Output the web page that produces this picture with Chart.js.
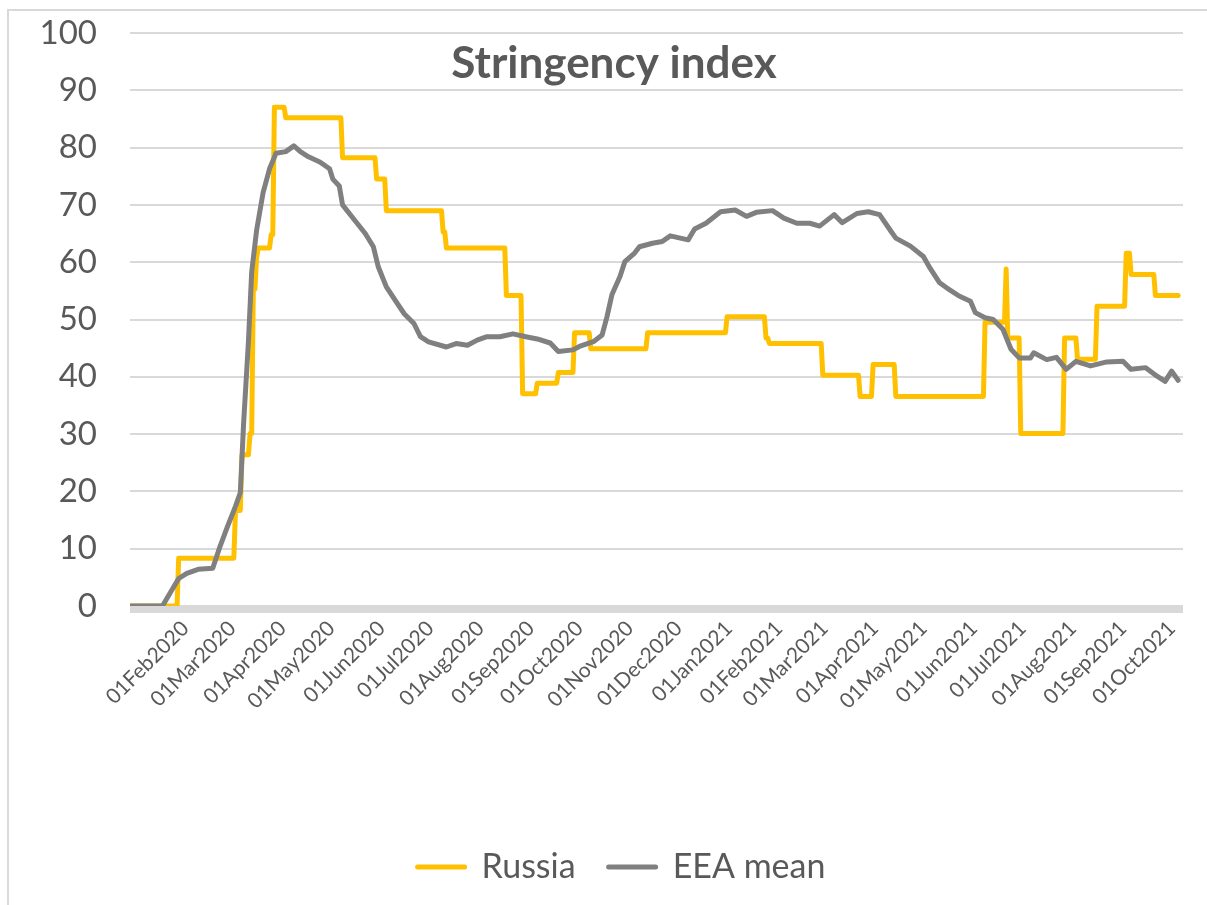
<!DOCTYPE html>
<html><head><meta charset="utf-8">
<script src="https://cdn.jsdelivr.net/npm/chart.js@4/dist/chart.umd.min.js"></script>
<style>html,body{margin:0;padding:0;background:#fff;}canvas{display:block;}</style>
</head><body>
<canvas id="c" width="1207" height="905"></canvas>
<script>
const chartTitle = 'Stringency index';
const seriesNames = ['Russia', 'EEA mean'];
// Day numbers count from 01 Jan 2020 (day 0)
const tickLabels = ['01Feb2020','01Mar2020','01Apr2020','01May2020','01Jun2020','01Jul2020','01Aug2020','01Sep2020','01Oct2020','01Nov2020','01Dec2020','01Jan2021','01Feb2021','01Mar2021','01Apr2021','01May2021','01Jun2021','01Jul2021','01Aug2021','01Sep2021','01Oct2021'];
const yTicks = [0,10,20,30,40,50,60,70,80,90,100];

// Russia: step series, value held from each start day until the next start day
const russiaStartDay = [0,30,65,69,74,76,78,79,87,89,96,131,152,158,193,195,232,242,251,264,274,284,319,368,392,394,427,450,458,472,527,540,541,549,576,584,596,614,617,632];
const russiaValue    = [0,8.33,16.67,26.39,30.09,55.32,60.65,62.5,64.81,87.04,85.19,78.24,74.54,69.0,65.28,62.5,54.17,37.04,38.89,40.74,47.69,44.91,47.69,50.46,46.76,45.83,40.28,36.57,42.13,36.57,49.54,58.8,46.76,30.09,46.76,43.06,52.31,61.57,57.87,54.17];
const russiaLastDay = 646;

// EEA mean: readings along the line
const eeaDay = [0,20,25,30,35,42,51,55,60,65,68,70,73,75,78,82,86,90,96,101,105,110,117,123,125,129,131,138,145,150,153,158,164,169,175,179,184,195,201,208,214,220,228,236,244,251,259,264,273,277,286,291,294,297,302,305,311,314,322,328,333,344,348,355,364,373,380,386,396,403,411,419,425,434,439,448,455,462,469,472,481,489,493,499,505,511,518,521,527,532,538,543,548,555,557,565,571,577,583,592,602,612,617,626,633,638,642,646];
const eeaValue = [0,0,2.4,4.8,5.7,6.4,6.6,10,13.8,17.4,19.8,31.8,46.2,58.3,65.5,72.1,76.3,79,79.3,80.3,79.3,78.4,77.5,76.3,74.5,73.3,70,67.5,65,62.7,59.2,55.7,53.1,51,49.3,47,46.1,45.2,45.8,45.5,46.4,47,47,47.5,47,46.6,45.9,44.4,44.7,45.3,46.2,47.3,50.5,54.3,57.5,60.1,61.6,62.7,63.3,63.6,64.6,63.9,65.8,66.8,68.8,69.1,68,68.7,69.0,67.7,66.8,66.8,66.3,68.3,66.9,68.5,68.8,68.3,65.4,64.2,62.8,61,59,56.4,55.2,54.1,53.2,51.2,50.3,50,48.3,44.8,43.3,43.3,44.2,43,43.4,41.3,42.7,41.9,42.6,42.7,41.3,41.6,40.1,39.2,41,39.4];

const xMinDay = 0, xMaxDay = 649;

const MONTHS = {Jan:0,Feb:1,Mar:2,Apr:3,May:4,Jun:5,Jul:6,Aug:7,Sep:8,Oct:9,Nov:10,Dec:11};
const DAY0 = Date.UTC(2020,0,1);
function labelToDay(s){
  const d = +s.slice(0,2), m = MONTHS[s.slice(2,5)], y = +s.slice(5);
  return Math.round((Date.UTC(y,m,d)-DAY0)/86400000);
}
const tickDays = tickLabels.map(labelToDay);

const russiaPoints = [];
russiaStartDay.forEach((d,i)=>{
  const end = i < russiaStartDay.length-1 ? russiaStartDay[i+1]-1 : russiaLastDay;
  russiaPoints.push({x:d, y:russiaValue[i]});
  if (end > d) russiaPoints.push({x:end, y:russiaValue[i]});
});
const eeaPoints = eeaDay.map((d,i)=>({x:d, y:eeaValue[i]}));

const TEXT = '#595959', GRID = '#d9d9d9';
const FONT = 'Lato, "Open Sans", sans-serif';
const LEGEND_SHIFT = 30;

const framePlugin = {
  id:'frame',
  afterLayout(chart){
    if (chart.legend) { chart.legend.left += LEGEND_SHIFT; chart.legend.right += LEGEND_SHIFT; }
  },
  beforeDraw(chart){
    const ctx = chart.ctx;
    ctx.save();
    ctx.fillStyle = '#fff';
    ctx.fillRect(0,0,chart.width,chart.height);
    ctx.strokeStyle = GRID; ctx.lineWidth = 2;
    ctx.beginPath();
    ctx.moveTo(8, chart.height+5); ctx.lineTo(8, 10); ctx.lineTo(chart.width+5, 10);
    ctx.stroke();
    ctx.restore();
  },
  beforeDatasetsDraw(chart){
    const {ctx, chartArea:a} = chart;
    ctx.save();
    ctx.fillStyle = GRID;
    ctx.fillRect(a.left, a.bottom-1, a.right-a.left, 8);
    ctx.restore();
  },
  afterDatasetsDraw(chart){
    const ctx = chart.ctx;
    ctx.save();
    ctx.fillStyle = TEXT;
    ctx.font = 'bold 44px ' + FONT;
    ctx.textAlign = 'center';
    ctx.textBaseline = 'alphabetic';
    ctx.fillText(chartTitle, 614, 78);
    ctx.restore();
  }
};

new Chart(document.getElementById('c'), {
  type:'line',
  data:{
    datasets:[
      {label:seriesNames[0], data:russiaPoints, borderColor:'#FFC000', backgroundColor:'#FFC000', borderWidth:5, pointRadius:0, pointHoverRadius:0, pointBorderWidth:5, tension:0, borderJoinStyle:'round', borderCapStyle:'round', order:1},
      {label:seriesNames[1], data:eeaPoints, borderColor:'#808080', backgroundColor:'#808080', borderWidth:5, pointRadius:0, pointHoverRadius:0, pointBorderWidth:5, tension:0, borderJoinStyle:'round', borderCapStyle:'round', order:0}
    ]
  },
  options:{
    responsive:false, animation:false,
    layout:{padding:{left:0, right:24, top:33, bottom:11}},
    plugins:{
      title:{display:false}, tooltip:{enabled:false},
      legend:{
        position:'bottom',
        labels:{
          font:{family:FONT, size:34}, color:TEXT, usePointStyle:true, pointStyle:'line', pointStyleWidth:47, padding:33,
          generateLabels(chart){
            const items = Chart.defaults.plugins.legend.labels.generateLabels(chart);
            items.forEach(it=>{ const ds = chart.data.datasets[it.datasetIndex]; it.lineWidth = 5; it.lineCap = 'round'; it.strokeStyle = ds.borderColor; it.fillStyle = ds.borderColor; });
            return items.sort((a,b)=>a.datasetIndex-b.datasetIndex);
          }
        }
      }
    },
    scales:{
      x:{
        type:'linear', min:xMinDay, max:xMaxDay,
        grid:{display:false, drawTicks:false}, border:{display:false},
        afterBuildTicks(scale){ scale.ticks = tickDays.map(v=>({value:v})); },
        afterFit(scale){ scale.height = 211; },
        ticks:{
          autoSkip:false, maxRotation:45, minRotation:45, padding:10, labelOffset:5,
          font:{family:FONT, size:21}, color:TEXT,
          callback(v){ const i = tickDays.indexOf(v); return i>=0 ? tickLabels[i] : ''; }
        }
      },
      y:{
        min:0, max:100,
        afterBuildTicks(scale){ scale.ticks = yTicks.map(v=>({value:v})); },
        afterFit(scale){ scale.width = 130; },
        grid:{color:GRID, lineWidth:2, drawTicks:true, tickLength:33, tickColor:'rgba(0,0,0,0)'}, border:{display:false},
        ticks:{padding:0, font:{family:FONT, size:33}, color:TEXT}
      }
    }
  },
  plugins:[framePlugin]
});
</script>
</body></html>
